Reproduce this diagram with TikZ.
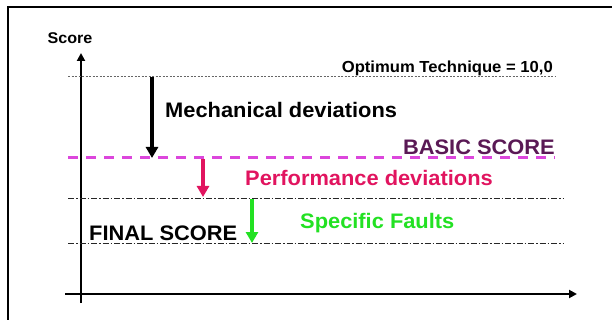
\documentclass[tikz,border=0pt]{standalone}
\usepackage{fontspec}
\setmainfont[FakeStretch=1.04]{Liberation Sans}
\usepackage{tikz}
\usetikzlibrary{arrows.meta}

\definecolor{devpink}{RGB}{225,20,95}
\definecolor{faultgreen}{RGB}{35,225,35}
\definecolor{basicline}{RGB}{220,70,220}
\definecolor{basictext}{RGB}{90,25,85}

\tikzset{
  axis/.style={line width=2pt, -{Triangle[length=8pt,width=8pt]}},
  level/.style={line width=0.9pt, dash pattern=on 6pt off 2pt on 1.5pt off 2pt, black!85},
  devarrow/.style={line width=3.5pt, -{Triangle[length=11pt,width=12pt]}},
  label/.style={inner sep=0pt, font=\bfseries\fontsize{21}{22}\selectfont}
}

\begin{document}
\begin{tikzpicture}[x=1pt,y=-1pt]
      \useasboundingbox (0,0) rectangle (612,320);
      \fill[white] (0,0) rectangle (612,320);
      \draw[line width=2pt] (8,325) -- (8,7.5) -- (620,7.5);

       % axes
      \coordinate (ybot) at (81,303);
      \coordinate (ytop) at (81,53);
      \coordinate (xleft) at (65,294);
      \coordinate (xright) at (577,294);
      \draw[axis] (ybot) -- (ytop);
      \draw[axis] (xleft) -- (xright);
      \node[inner sep=0pt, font=\bfseries\fontsize{15.5}{16}\selectfont] (score) at (70,38) {Score};

       % optimum
      \coordinate (opt-l) at (68,77);
      \coordinate (opt-r) at (555,77);
      \draw[black!60, line width=1pt, dash pattern=on 2pt off 1.5pt] (opt-l) -- (opt-r);
      \node[inner sep=0pt, anchor=east, font=\bfseries\fontsize{16}{17}\selectfont] (optimum) at (553,68) {Optimum Technique = 10,0};

       % basic score
      \coordinate (basic-l) at (68,158);
      \coordinate (basic-r) at (555,158);
      \draw[basicline, line width=3pt, dash pattern=on 10pt off 8pt] (basic-l) -- (basic-r);
      \node[label, anchor=east, basictext] (basic) at (555,147) {BASIC SCORE};

       % mechanical deviations
      \coordinate (mech-s) at (152,77);
      \coordinate (mech-e) at (152,158);
      \draw[devarrow] (mech-s) -- (mech-e);
      \node[label, anchor=west] (mech) at (165,110) {Mechanical deviations};

       % performance deviations
      \coordinate (perf-l) at (68,198);
      \coordinate (perf-r) at (563,198);
      \draw[level] (perf-l) -- (perf-r);
      \coordinate (perf-s) at (203,159);
      \coordinate (perf-e) at (203,197);
      \draw[devarrow, devpink] (perf-s) -- (perf-e);
      \node[label, anchor=west, devpink] (perf) at (245,178) {Performance deviations};

       % specific faults
      \coordinate (final-l) at (68,243);
      \coordinate (final-r) at (563,243);
      \draw[level] (final-l) -- (final-r);
      \coordinate (fault-s) at (252,199);
      \coordinate (fault-e) at (252,243);
      \draw[devarrow, faultgreen] (fault-s) -- (fault-e);
      \node[label, anchor=west, faultgreen] (faults) at (300,223) {Specific Faults};
      \node[label, anchor=west] (final) at (89,233) {FINAL SCORE};
    \end{tikzpicture}
\end{document}
